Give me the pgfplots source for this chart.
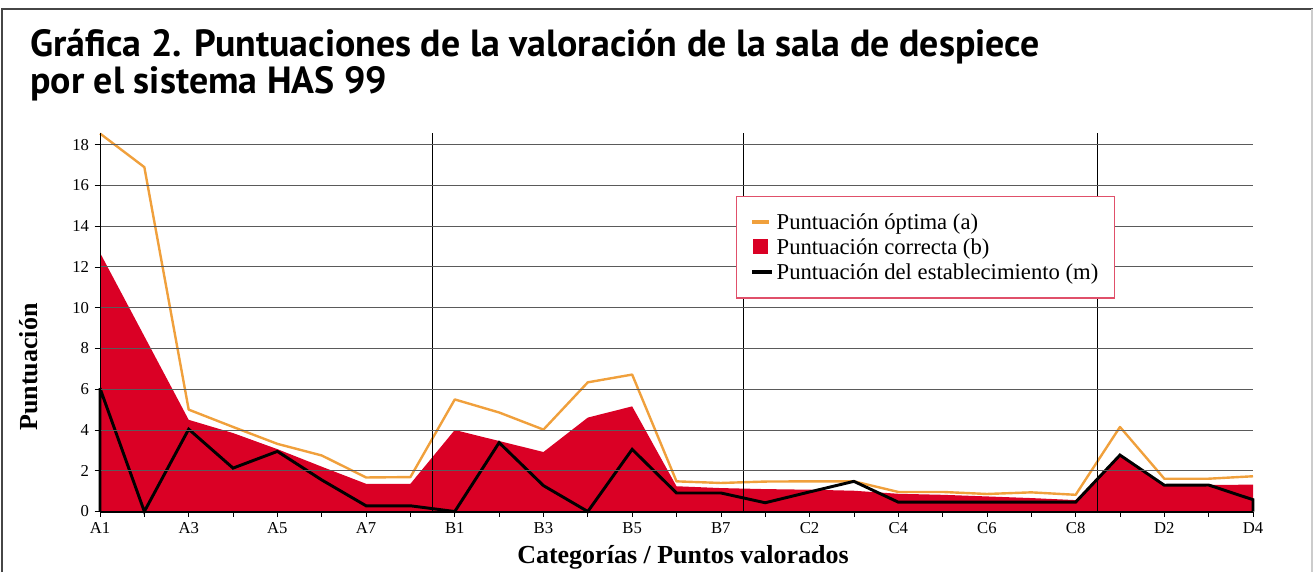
\documentclass[border=0pt]{standalone}
\usepackage{fontspec}
\setmainfont{Liberation Serif}
\newfontfamily\titlefont{PT Sans}
\usepackage{pgfplots}
\pgfplotsset{compat=1.18}
\usepackage{pgfplotstable}
\definecolor{optorange}{RGB}{240,160,60}
\definecolor{corrred}{RGB}{218,0,37}
\definecolor{legborder}{RGB}{224,80,106}
\definecolor{gridgray}{RGB}{90,90,90}
\definecolor{framegray}{RGB}{70,70,70}

\pgfplotstableread{
i a b
0 18.55 12.7
1 16.9 8.6
2 5.0 4.5
3 4.15 3.85
4 3.32 3.06
5 2.75 2.2
6 1.67 1.36
7 1.69 1.36
8 5.5 4.0
9 4.86 3.46
10 4.02 2.92
11 6.34 4.61
12 6.72 5.16
13 1.48 1.24
14 1.40 1.15
15 1.47 1.10
16 1.48 1.07
17 1.48 1.02
18 0.96 0.87
19 0.96 0.82
20 0.86 0.74
21 0.94 0.66
22 0.82 0.56
23 4.15 2.77
24 1.61 1.29
25 1.61 1.30
26 1.73 1.32
}\optcorr

\pgfplotstableread{
i m
0 0
0 6.05
1 0
2 4.04
3 2.13
4 2.95
5 1.55
6 0.28
7 0.28
8 0
9 3.38
10 1.27
11 0
12 3.05
13 0.91
14 0.91
15 0.43
16 0.96
17 1.48
18 0.46
19 0.46
20 0.46
21 0.46
22 0.46
23 2.77
24 1.29
25 1.30
26 0.58
26 0
}\estab

\begin{document}
\begin{tikzpicture}
\useasboundingbox (0pt,0pt) rectangle (984.75pt,-429pt);
\begin{scope}[x=0.75pt,y=-0.75pt]
\draw[framegray, line width=1.5pt] (2,572) -- (2,9) -- (1313,9);
\draw[black!20, line width=1.5pt] (1312,9) -- (1312,572);
\node[anchor=base west, inner sep=0pt, font=\titlefont\bfseries\fontsize{28.4}{32}\selectfont] at (30,56) {Gráfica 2. Puntuaciones de la valoración de la sala de despiece};
\node[anchor=base west, inner sep=0pt, font=\titlefont\bfseries\fontsize{28.4}{32}\selectfont] at (30,93) {por el sistema HAS 99};
\node[rotate=90, anchor=base, inner sep=0pt, font=\bfseries\fontsize{19.5}{22}\selectfont] at (37,367) {Puntuación};
\node[anchor=base, inner sep=0pt, font=\bfseries\fontsize{19.5}{22}\selectfont] at (683,563) {Categorías / Puntos valorados};
\end{scope}
\begin{axis}[
  at={(75pt,-383.625pt)}, anchor=south west,
  scale only axis, width=864.75pt, height=284.25pt,
  xmin=0, xmax=26, ymin=0, ymax=18.6,
  clip=false, axis on top,
  axis lines=left, axis line style={-},
  x axis line style={line width=1.5pt},
  y axis line style={line width=0.75pt},
  xtick={0,...,26},
  xticklabels={A1,,A3,,A5,,A7,,B1,,B3,,B5,,B7,,C2,,C4,,C6,,C8,,D2,,D4},
  ytick={0,2,...,18},
  tick align=outside, major tick length=4pt,
  tick style={black, line width=0.5pt},
  ymajorgrids, grid style={gridgray, line width=0.75pt},
  /pgf/number format/assume math mode=true,
  xticklabel style={font=\fontsize{12.5}{14}\selectfont, anchor=base, yshift=-12.5pt},
  yticklabel style={font=\fontsize{12.5}{14}\selectfont, anchor=east, inner sep=0pt, xshift=-4pt},
  legend style={at={(rel axis cs:0.5516,0.8325)}, anchor=north west, draw=legborder, line width=1pt, fill=white,
    font=\fontsize{17}{19}\selectfont, inner xsep=10pt, inner ysep=10.5pt, row sep=1.5pt},
  legend cell align=left,
]
\addplot[optorange, line width=1.8pt, line join=round,
  legend image code/.code={\draw[optorange, line width=3pt] (0pt,0pt) -- (13pt,0pt);}]
  table[x=i, y=a] {\optcorr};
\addlegendentry{Puntuación óptima (a)}
\addplot[fill=corrred, draw=none,
  legend image code/.code={\fill[corrred] (1pt,-5pt) rectangle (12pt,6pt);}]
  table[x=i, y=b] {\optcorr} \closedcycle;
\addlegendentry{Puntuación correcta (b)}
\addplot[black, line width=2.2pt, miter limit=4,
  legend image code/.code={\draw[black, line width=3pt] (0pt,0pt) -- (15pt,0pt);}]
  table[x=i, y=m] {\estab};
\addlegendentry{Puntuación del establecimiento (m)}
\draw[black, line width=0.75pt] (axis cs:7.5,0) -- (axis cs:7.5,18.6);
\draw[black, line width=0.75pt] (axis cs:14.5,0) -- (axis cs:14.5,18.6);
\draw[black, line width=0.75pt] (axis cs:22.5,0) -- (axis cs:22.5,18.6);
\end{axis}
\end{tikzpicture}
\end{document}
